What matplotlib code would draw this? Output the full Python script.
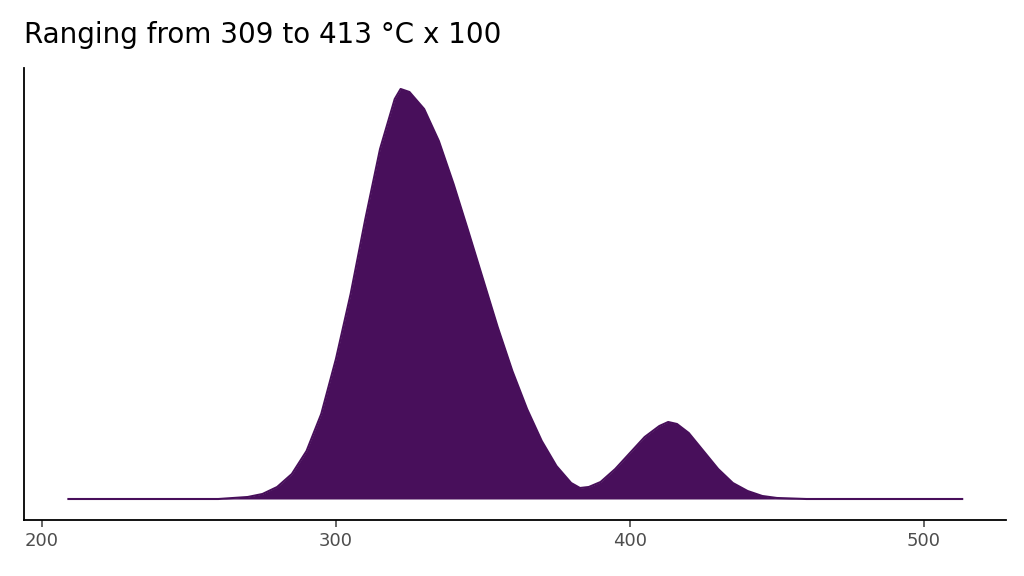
import matplotlib.pyplot as plt

# density curve (relative heights)
temp = [209, 260, 270, 275, 280, 285, 290, 295, 300, 305, 310, 315, 320, 322, 325,
        330, 335, 340, 345, 350, 355, 360, 365, 370, 375, 380, 383, 386, 390, 395,
        400, 405, 410, 413, 416, 420, 425, 430, 435, 440, 445, 450, 460, 513]
density = [0, 0, 2, 5, 12, 25, 48, 85, 140, 205, 280, 350, 400, 410, 407,
           390, 358, 315, 268, 220, 172, 128, 90, 58, 33, 16, 11, 12, 17, 30,
           46, 62, 73, 77, 75, 66, 48, 30, 16, 8, 3, 1, 0, 0]
title = "Ranging from 309 to 413 °C x 100"
xticks = [200, 300, 400, 500]

color = "#480f5b"

fig = plt.figure(figsize=(10.24, 5.76), dpi=100)
ax = fig.add_axes([24 / 1024, 1 - 520 / 576, 982 / 1024, 452 / 576])
ax.fill_between(temp, 0, density, color=color, linewidth=0)
ax.plot(temp, density, color=color, linewidth=1.5)

ax.set_xlim(193.9, 527.9)
ax.set_ylim(-21, 431)
ax.set_xticks(xticks)
ax.set_yticks([])
ax.tick_params(axis='x', labelsize=13, colors='#4d4d4d', length=5, width=1.2)
for lbl in ax.get_xticklabels():
    lbl.set_color('#4d4d4d')
ax.spines['top'].set_visible(False)
ax.spines['right'].set_visible(False)
ax.spines['left'].set_linewidth(1.3)
ax.spines['bottom'].set_linewidth(1.3)

fig.text(24 / 1024, 1 - 35 / 576, title, fontsize=20, va='center', ha='left')

fig.savefig("out.png", dpi=100)
